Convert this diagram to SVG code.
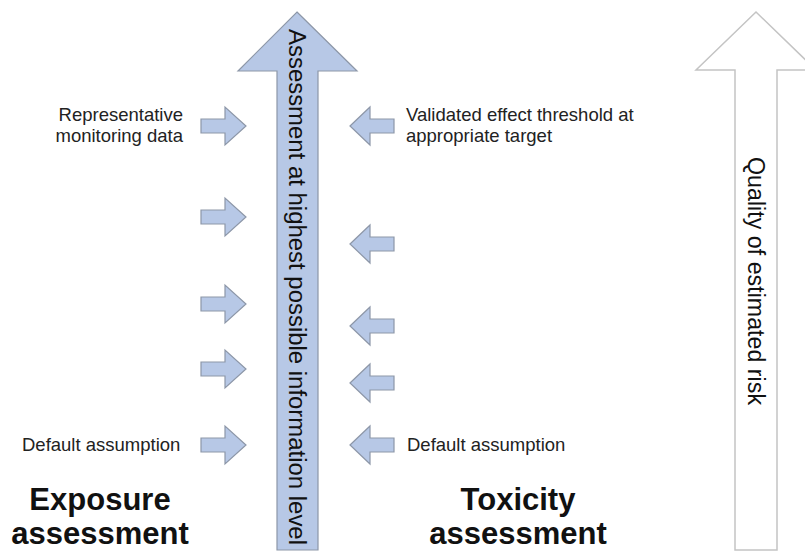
<svg xmlns="http://www.w3.org/2000/svg" width="805" height="551" viewBox="0 0 805 551">
<defs>
<style>
.bl{fill:#b7c8e6;stroke:#8d97a8;stroke-width:1.2;stroke-linejoin:miter}
.wh{fill:#ffffff;stroke:#c4c4c4;stroke-width:1.5}
.t{font-family:"Liberation Sans",Arial,sans-serif;font-size:18.5px;fill:#222}
.h{font-family:"Liberation Sans",Arial,sans-serif;font-size:31px;font-weight:bold;fill:#111;text-anchor:middle}
.v{font-family:"Liberation Sans",Arial,sans-serif;font-size:23px;fill:#111}
</style>
<path id="ra" d="M0,-7 H24 V-19 L45,0 L24,19 V7 H0 Z"/>
<path id="la" d="M0,0 L20,-19 V-7 H44 V7 H20 V19 Z"/>
</defs>
<rect width="805" height="551" fill="#fff"/>
<g id="main-arrow">
<path class="bl" d="M297,12 L357,71 H318 V550 H277 V71 H238 Z"/>
<text class="v" transform="translate(289,29) rotate(90)" textLength="516" lengthAdjust="spacingAndGlyphs">Assessment at highest possible information level</text>
</g>
<g id="quality-arrow">
<path class="wh" d="M756,12 L816,70 H777 V550 H735 V70 H696 Z"/>
<text class="v" transform="translate(748,157) rotate(90)" textLength="248" lengthAdjust="spacingAndGlyphs">Quality of estimated risk</text>
</g>
<g id="exposure-arrows">
<use href="#ra" class="bl" x="201" y="126"/>
<use href="#ra" class="bl" x="201" y="217"/>
<use href="#ra" class="bl" x="201" y="304"/>
<use href="#ra" class="bl" x="201" y="369"/>
<use href="#ra" class="bl" x="201" y="445"/>
</g>
<g id="toxicity-arrows">
<use href="#la" class="bl" x="350" y="126"/>
<use href="#la" class="bl" x="350" y="244"/>
<use href="#la" class="bl" x="350" y="326"/>
<use href="#la" class="bl" x="350" y="383"/>
<use href="#la" class="bl" x="350" y="445"/>
</g>
<g id="labels">
<text class="t" x="183" y="121" text-anchor="end">Representative</text>
<text class="t" x="183" y="142" text-anchor="end">monitoring data</text>
<text class="t" x="406" y="121">Validated effect threshold at</text>
<text class="t" x="406" y="142">appropriate target</text>
<text class="t" x="22" y="451">Default assumption</text>
<text class="t" x="407" y="451">Default assumption</text>
<text class="h" x="100" y="510">Exposure</text>
<text class="h" x="100" y="544">assessment</text>
<text class="h" x="518" y="510">Toxicity</text>
<text class="h" x="518" y="544">assessment</text>
</g>
</svg>
